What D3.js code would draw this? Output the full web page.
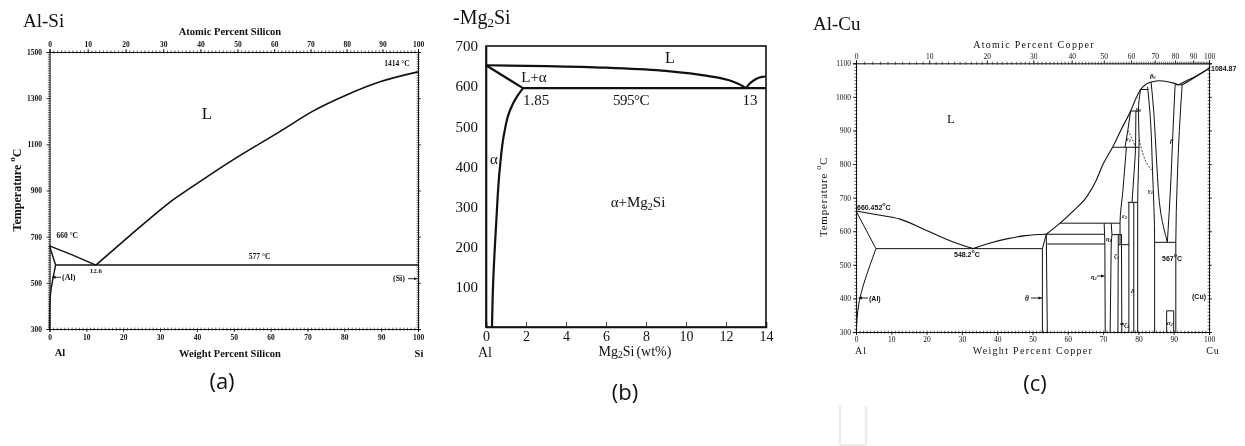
<!DOCTYPE html>
<html><head><meta charset="utf-8">
<script src="https://cdn.jsdelivr.net/npm/d3@7"></script>
<style>body{margin:0;background:#fff}svg{display:block;will-change:transform}</style>
</head><body>
<script>
// ================= data =================
// (a) Al-Si : [wt% Si, temperature °C]
const siLiquidusAl = [[0,660],[6,622],[12.6,577]];
const siLiquidusSi = [[12.6,577],[20,680],[27,775],[33.5,859],[40,930],[50,1035],[62.5,1155],[71.6,1245],[80.6,1314],[89.7,1371],[100,1414]];
const siSolidusAl = [[0,660],[1.65,577]];
const siSolvusAl = [[1.65,577],[1.2,540],[0.6,490],[0.2,440],[0.05,380],[0,300]];
const siEutectic = [[1.65,577],[100,577]];
const siTempTicks = [300,500,700,900,1100,1300,1500];
const siWtTicks = [0,10,20,30,40,50,60,70,80,90,100];
const siAtTicks = [0,10,20,30,40,50,60,70,80,90,100];

// (b) Al-Mg2Si : [wt% Mg2Si, temperature °C]
const mgLiquidusAl = [[0,652],[3,650],[6,646],[9,638],[11,626],[12.3,612],[12.8,601],[13,595]];
const mgLiquidusMg2Si = [[13,595],[13.2,607],[13.5,618],[13.8,623],[14,624]];
const mgSolidus = [[0,652],[1.85,595]];
const mgSolvus = [[1.85,595],[1.5,570],[1.2,540],[0.9,480],[0.7,400],[0.5,250],[0.35,100],[0.3,0]];
const mgEutectic = [[1.85,595],[14,595]];
const mgTempTicks = [100,200,300,400,500,600,700];
const mgWtTicks = [0,2,4,6,8,10,12,14];

// (c) Al-Cu : [wt% Cu, temperature °C]
const cuLiquidusAl = [[0,660.452],[6,649],[12.5,636],[20,602],[27,570],[33.2,548.2]];
const cuSolidusAl = [[0,660.452],[5.65,548.2]];
const cuSolvusAl = [[5.65,548.2],[4.0,500],[2.1,440],[0.9,390],[0.3,340],[0.1,300]];
const cuEutectic = [[5.65,548.2],[52.8,548.2]];
const cuLiquidusTheta = [[33.2,548.2],[38,565],[43,578],[48,587],[53.9,591]];
const cuLiquidusRich = [[53.9,591],[57.8,624],[61.5,660],[65.4,703],[68,750],[70,800],[72.8,852],[75,900],[77.8,958],[79.3,995],[80.6,1022],[82.2,1038],[84,1045],[86,1048],[88,1046],[90,1041],[91.4,1036]];
const cuLiquidusCu = [[91.4,1036],[93.5,1047],[96,1060],[98,1072],[100,1084.87]];
const cuSolidusCu = [[92.4,1036],[95,1052],[97.5,1068],[100,1084.87]];
const cuEutecticCu = [[90.4,1036],[92.4,1036]];
const cuSolvusCu = [[92.4,1036],[91.6,900],[91.0,750],[90.6,567],[90.6,300]];
const cuThetaLeft = [[52.8,300],[52.8,548.2],[53.9,591]];
const cuThetaRight = [[53.9,591],[54.2,300]];
const cuPeritectic591 = [[53.9,591],[70.5,591]];
const cuLine562 = [[54.2,562],[70.5,562]];
const cuPeritectic624 = [[57.8,624],[74.8,624]];
const cuEtaLeft = [[70.6,300],[70.5,562],[70.3,624]];
const cuEtaRight = [[72.3,624],[72.5,590],[72.3,562],[72.0,300]];
const cuZetaLeft = [[74.2,300],[74.3,590]];
const cuZetaRight = [[75.3,300],[75.2,590]];
const cuLine590 = [[72.5,590],[75.3,590]];
const cuLine560 = [[74.3,560],[77.3,560]];
const cuEps2Left = [[74.8,560],[74.8,624],[75.6,720],[76.6,850]];
const cuEps1Left = [[76.2,850],[77.0,900],[77.8,958]];
const cuEpsRight = [[78.2,686],[78.8,780],[79.2,850],[79.3,958]];
const cuLine850 = [[72.8,850],[80.2,850]];
const cuLine958 = [[77.8,958],[80.0,958]];
const cuDeltaLeft = [[77.3,300],[77.3,686]];
const cuDeltaRight = [[78.7,300],[78.7,686]];
const cuLine686 = [[77.0,686],[79.8,686]];
const cuGammaLeft = [[79.8,300],[79.8,686],[80.0,780],[80.2,873],[80.0,958],[80.6,1022]];
const cuLine1022 = [[80.6,1022],[82.8,1022]];
const cuGammaRight = [[84.6,300],[84.6,567],[84.0,780],[83.3,950],[82.6,1030]];
const cuBetaLeft = [[83.6,1044],[84.4,950],[85.2,800],[86.4,650],[88.2,567]];
const cuBetaRight = [[90.4,1036],[89.8,900],[89.2,750],[88.2,567]];
const cuEutectoid567 = [[84.6,567],[90.6,567]];
const cuAlpha2 = [[88.0,300],[88.0,363],[90.0,363],[90.0,300]];
const cuGammaTransition = [[80.2,873],[81.3,830],[82.5,800],[84.0,780]];
const cuEpsTransition = [[77.0,900],[78.0,880],[79.2,850]];
const cuTempTicks = [300,400,500,600,700,800,900,1000,1100];
const cuWtTicks = [0,10,20,30,40,50,60,70,80,90,100];
const cuAtTicks = [0,10,20,30,40,50,60,70,80,90,100];

// ================= drawing =================
const svg = d3.select("body").append("svg").attr("width",1245).attr("height",446);
svg.append("rect").attr("width",1245).attr("height",446).attr("fill","#fff");
const defs = svg.append("defs");
defs.append("marker").attr("id","ah").attr("viewBox","0 0 10 10")
  .attr("refX",10).attr("refY",5).attr("markerWidth",4).attr("markerHeight",4)
  .attr("orient","auto").append("path").attr("d","M0,1L10,5L0,9z").attr("fill","#111");

const SERIF = "'Liberation Serif','Times New Roman',serif";
const SANS = "'Liberation Sans',Arial,sans-serif";
const fmt = d3.format("d");

function atomicScale(x, massB){
  // atomic-percent axis placed over a weight-percent scale
  const dom = d3.range(0,100.001,0.5);
  return d3.scaleLinear().domain(dom)
    .range(dom.map(a => x(100*a*massB/(a*massB+(100-a)*26.982))));
}
function styleAxis(sel, font, size, weight){
  sel.select(".domain").attr("stroke","#111").attr("stroke-width",1);
  sel.selectAll(".tick line").attr("stroke","#111").attr("stroke-width",0.8);
  sel.selectAll("text").attr("font-family",font).attr("font-size",size)
    .attr("font-weight",weight||"normal").attr("fill","#111");
}
function minor(g, axisFn, scale, vals, size, tf){
  g.append("g").attr("transform",tf)
    .call(axisFn(scale).tickValues(vals).tickSize(size).tickFormat(""))
    .call(s=>{s.select(".domain").remove();s.selectAll("line").attr("stroke","#222").attr("stroke-width",0.7);});
}
function curves(g, x, y, list, width, curve){
  const line = d3.line().x(d=>x(d[0])).y(d=>y(d[1])).curve(curve||d3.curveLinear);
  list.forEach(pts => g.append("path").attr("d",line(pts)).attr("fill","none")
    .attr("stroke","#111").attr("stroke-width",width).attr("stroke-linejoin","round"));
}
function txt(g, s, x, y, o){
  o = o||{};
  const t = g.append("text").attr("x",x).attr("y",y)
    .attr("font-family",o.font||SERIF).attr("font-size",o.size||10)
    .attr("font-weight",o.weight||"normal").attr("font-style",o.style||"normal")
    .attr("text-anchor",o.anchor||"start").attr("dominant-baseline","central").attr("fill","#111");
  if (o.ls) t.attr("letter-spacing",o.ls);
  return t.text(s);
}
function degC(g, num, x, y, o){
  // "num °C" with the degree written as a small raised o
  const t = txt(g, num, x, y, o);
  const sz = (o&&o.size)||8;
  t.append("tspan").attr("font-size",sz*0.75).attr("dy",-sz*0.4).text("o");
  t.append("tspan").attr("dy",sz*0.4).text("C");
  return t;
}
function arrow(g, x1, y1, x2, y2){
  g.append("line").attr("x1",x1).attr("y1",y1).attr("x2",x2).attr("y2",y2)
    .attr("stroke","#111").attr("stroke-width",0.9).attr("marker-end","url(#ah)");
}

// ---------- (a) Al-Si ----------
{
  const g = svg.append("g");
  const x = d3.scaleLinear().domain([0,100]).range([49.5,418]);
  const y = d3.scaleLinear().domain([300,1500]).range([329,52]);
  const xt = atomicScale(x, 28.086);
  const [yb, yt] = y.range();

  minor(g, d3.axisBottom, x, d3.range(0,101,1), 1.6, `translate(0,${yb})`);
  minor(g, d3.axisBottom, x, d3.range(0,101,1), -1.4, `translate(0,${yb})`);
  minor(g, d3.axisTop, xt, d3.range(0,101,1), 1.6, `translate(0,${yt})`);
  minor(g, d3.axisTop, xt, d3.range(0,101,1), -1.4, `translate(0,${yt})`);
  minor(g, d3.axisLeft, y, d3.range(300,1501,10), 1.6, `translate(${x(0)},0)`);
  minor(g, d3.axisLeft, y, d3.range(300,1501,10), -1.4, `translate(${x(0)},0)`);
  minor(g, d3.axisRight, y, d3.range(300,1501,10), 1.6, `translate(${x(100)},0)`);
  minor(g, d3.axisRight, y, d3.range(300,1501,10), -1.4, `translate(${x(100)},0)`);

  g.append("g").attr("transform",`translate(0,${yb})`)
    .call(d3.axisBottom(x).tickValues(siWtTicks).tickFormat(fmt).tickSize(3).tickPadding(2.5))
    .call(s=>styleAxis(s,SERIF,7.5,"bold"));
  g.append("g").attr("transform",`translate(0,${yt})`)
    .call(d3.axisTop(xt).tickValues(siAtTicks).tickFormat(fmt).tickSize(3).tickPadding(1.8))
    .call(s=>styleAxis(s,SERIF,7.5,"bold"));
  g.append("g").attr("transform",`translate(${x(0)},0)`)
    .call(d3.axisLeft(y).tickValues(siTempTicks).tickFormat(fmt).tickSize(3).tickPadding(4.5))
    .call(s=>styleAxis(s,SERIF,7.5,"bold"));
  g.append("g").attr("transform",`translate(${x(100)},0)`)
    .call(d3.axisRight(y).tickValues(siTempTicks).tickSize(3).tickFormat(""))
    .call(s=>styleAxis(s,SERIF,7.5,"bold"));

  curves(g, x, y, [siLiquidusAl, siSolidusAl, siEutectic], 1.4);
  curves(g, x, y, [siLiquidusSi], 1.6, d3.curveMonotoneX);
  curves(g, x, y, [siSolvusAl], 1.4, d3.curveMonotoneY);

  txt(g, "Al-Si", 23, 20, {size:19});
  txt(g, "Atomic Percent Silicon", 230, 31, {size:10.5, weight:"bold", anchor:"middle"});
  txt(g, "Weight Percent Silicon", 230, 353, {size:10.5, weight:"bold", anchor:"middle"});
  txt(g, "Al", 60, 352, {size:10.5, weight:"bold", anchor:"middle"});
  txt(g, "Si", 419, 353, {size:10.5, weight:"bold", anchor:"middle"});
  txt(g, "L", 207, 113, {size:17, anchor:"middle"});
  txt(g, "660 °C", x(0)+7, y(704), {size:7.5, weight:"bold"});
  txt(g, "12.6", x(12.6), y(552), {size:7, weight:"bold", anchor:"middle"});
  txt(g, "577 °C", x(57), y(612), {size:7.5, weight:"bold", anchor:"middle"});
  txt(g, "1414 °C", 397, 63, {size:7.5, weight:"bold", anchor:"middle"});
  txt(g, "(Al)", 62, y(524), {size:8, weight:"bold"});
  arrow(g, 61, y(524), 52, y(524));
  txt(g, "(Si)", 405, y(518), {size:8, weight:"bold", anchor:"end"});
  arrow(g, 408, y(518), 417.5, y(518));

  const yl = txt(g, "Temperature", 0, 0, {size:12, weight:"bold", anchor:"middle"})
    .attr("transform","translate(17,190) rotate(-90)");
  yl.append("tspan").attr("font-size",9).attr("dy",-5).attr("dx",3).text("o");
  yl.append("tspan").attr("dy",5).text("C");

  txt(g, "(a)", 222, 380, {size:22, font:"'Open Sans',sans-serif", anchor:"middle"});
}

// ---------- (b) Al-Mg2Si ----------
{
  const g = svg.append("g");
  const x = d3.scaleLinear().domain([0,14]).range([486,766]);
  const y = d3.scaleLinear().domain([0,700]).range([327,46]);

  g.append("rect").attr("x",x(0)).attr("y",y(700)).attr("width",x(14)-x(0)).attr("height",y(0)-y(700))
    .attr("fill","none").attr("stroke","#111").attr("stroke-width",1.6);
  g.append("g").attr("transform",`translate(0,${y(0)})`)
    .call(d3.axisBottom(x).tickValues(mgWtTicks).tickFormat(fmt).tickSize(-5).tickPadding(4))
    .call(s=>{styleAxis(s,SERIF,14);s.select(".domain").attr("stroke-width",1.6);});
  g.append("g").attr("transform",`translate(${x(0)},0)`)
    .call(d3.axisLeft(y).tickValues(mgTempTicks).tickFormat(fmt).tickSize(0).tickPadding(8))
    .call(s=>{styleAxis(s,SERIF,15);s.select(".domain").attr("stroke-width",1.6);});

  curves(g, x, y, [mgLiquidusAl, mgLiquidusMg2Si], 2.2, d3.curveMonotoneX);
  curves(g, x, y, [mgSolidus, mgEutectic], 2.2);
  curves(g, x, y, [mgSolvus], 2.2, d3.curveMonotoneY);

  const t = txt(g, "-Mg", 453, 17, {size:20});
  t.append("tspan").attr("font-size",13).attr("dy",5).text("2");
  t.append("tspan").attr("dy",-5).text("Si");

  txt(g, "L", 670, 57, {size:16, anchor:"middle"});
  txt(g, "L+α", 534, 77, {size:15, anchor:"middle"});
  txt(g, "α", 494, 159, {size:15, anchor:"middle"});
  txt(g, "1.85", 536, 100, {size:15, anchor:"middle"});
  txt(g, "595°C", 631, 100, {size:15, anchor:"middle", ls:-0.5});
  txt(g, "13", 750, 100, {size:15, anchor:"middle"});
  const p = txt(g, "α+Mg", 638, 202, {size:15, anchor:"middle"});
  p.append("tspan").attr("font-size",10).attr("dy",4).text("2");
  p.append("tspan").attr("dy",-4).text("Si");
  txt(g, "Al", 485, 352, {size:14, anchor:"middle"});
  const xl = txt(g, "Mg", 635, 351, {size:14, anchor:"middle"});
  xl.append("tspan").attr("font-size",9.5).attr("dy",4).text("2");
  xl.append("tspan").attr("dy",-4).text("Si");
  xl.append("tspan").attr("dx",2).text("(wt%)");

  txt(g, "(b)", 625, 391, {size:22, font:"'Open Sans',sans-serif", anchor:"middle"});
}

// ---------- (c) Al-Cu ----------
{
  const g = svg.append("g");
  const x = d3.scaleLinear().domain([0,100]).range([856,1209]);
  const y = d3.scaleLinear().domain([300,1100]).range([332,63.3]);
  const xt = atomicScale(x, 63.546);
  const [yb, yt] = y.range();

  minor(g, d3.axisBottom, x, d3.range(0,101,1), 1.6, `translate(0,${yb})`);
  minor(g, d3.axisBottom, x, d3.range(0,101,1), -1.4, `translate(0,${yb})`);
  minor(g, d3.axisTop, xt, d3.range(0,101,1), 1.6, `translate(0,${yt})`);
  minor(g, d3.axisTop, xt, d3.range(0,101,1), -1.4, `translate(0,${yt})`);
  minor(g, d3.axisLeft, y, d3.range(300,1101,10), 1.6, `translate(${x(0)},0)`);
  minor(g, d3.axisLeft, y, d3.range(300,1101,10), -1.4, `translate(${x(0)},0)`);
  minor(g, d3.axisRight, y, d3.range(300,1101,10), 1.6, `translate(${x(100)},0)`);
  minor(g, d3.axisRight, y, d3.range(300,1101,10), -1.4, `translate(${x(100)},0)`);

  g.append("g").attr("transform",`translate(0,${yb})`)
    .call(d3.axisBottom(x).tickValues(cuWtTicks).tickFormat(fmt).tickSize(3).tickPadding(1.5))
    .call(s=>styleAxis(s,SERIF,7.5));
  g.append("g").attr("transform",`translate(0,${yt})`)
    .call(d3.axisTop(xt).tickValues(cuAtTicks).tickFormat(fmt).tickSize(3).tickPadding(1.2))
    .call(s=>styleAxis(s,SERIF,7.5));
  g.append("g").attr("transform",`translate(${x(0)},0)`)
    .call(d3.axisLeft(y).tickValues(cuTempTicks).tickFormat(fmt).tickSize(3).tickPadding(2))
    .call(s=>styleAxis(s,SERIF,7.5));
  g.append("g").attr("transform",`translate(${x(100)},0)`)
    .call(d3.axisRight(y).tickValues(cuTempTicks).tickSize(3).tickFormat(""))
    .call(s=>styleAxis(s,SERIF,7.5));

  curves(g, x, y, [cuLiquidusAl, cuLiquidusTheta, cuLiquidusRich, cuLiquidusCu, cuSolidusCu], 1.1, d3.curveMonotoneX);
  curves(g, x, y, [cuSolvusAl, cuSolvusCu, cuGammaRight, cuBetaLeft, cuBetaRight, cuEps2Left, cuEps1Left, cuEpsRight, cuGammaLeft], 1.0, d3.curveMonotoneY);
  curves(g, x, y, [cuSolidusAl, cuEutectic, cuEutecticCu, cuThetaLeft, cuThetaRight, cuPeritectic591,
    cuLine562, cuPeritectic624, cuEtaLeft, cuEtaRight, cuZetaLeft, cuZetaRight, cuLine590, cuLine560,
    cuLine850, cuLine958, cuDeltaLeft, cuDeltaRight, cuLine686, cuLine1022, cuEutectoid567, cuAlpha2], 1.0);
  const dash = d3.line().x(d=>x(d[0])).y(d=>y(d[1])).curve(d3.curveMonotoneX);
  [cuGammaTransition, cuEpsTransition].forEach(pts => g.append("path").attr("d",dash(pts))
    .attr("fill","none").attr("stroke","#111").attr("stroke-width",0.8).attr("stroke-dasharray","2,1.5"));

  txt(g, "Al-Cu", 813, 23, {size:19});
  txt(g, "Atomic Percent Copper", 1034, 44, {size:10, anchor:"middle", ls:1.3});
  txt(g, "Weight Percent Copper", 1033, 350, {size:10, anchor:"middle", ls:1.3});
  txt(g, "Al", 861, 350, {size:10, anchor:"middle", ls:1});
  txt(g, "Cu", 1213, 350, {size:10, anchor:"middle", ls:1});
  txt(g, "L", 951, 118, {size:13, anchor:"middle"});

  const SM = {size:7, font:SANS, weight:"bold"};
  degC(g, "660.452", 857, 207, SM);
  degC(g, "548.2", 954, 254, SM);
  degC(g, "567", 1162, 258, SM);
  txt(g, "1084.87", 1211, 68, SM);
  txt(g, "(Al)", 869, 298, SM);
  arrow(g, 868, 298, 858.5, 298);
  txt(g, "θ", 1029, 298, {size:7.5, style:"italic", weight:"bold", anchor:"end"});
  arrow(g, 1031, 298, 1042, 298);
  const GK = {size:6.5, style:"italic", weight:"bold"};
  txt(g, "η", 1091, 276, GK).append("tspan").attr("font-size",4.5).attr("dy",2).text("2");
  arrow(g, 1097, 276, 1104.5, 276);
  txt(g, "η", 1106, 238, GK).append("tspan").attr("font-size",4.5).attr("dy",2).text("1");
  txt(g, "ζ", 1114, 255, GK).append("tspan").attr("font-size",4.5).attr("dy",2).text("1");
  txt(g, "ε", 1122, 215, GK).append("tspan").attr("font-size",4.5).attr("dy",2).text("2");
  txt(g, "ε", 1126, 138, GK).append("tspan").attr("font-size",4.5).attr("dy",2).text("1");
  txt(g, "ζ", 1124, 324, GK).append("tspan").attr("font-size",4.5).attr("dy",2).text("2");
  arrow(g, 1123, 324, 1120, 324);
  txt(g, "δ", 1131, 290, GK);
  txt(g, "γ", 1136, 108, GK).append("tspan").attr("font-size",4.5).attr("dy",2).text("0");
  txt(g, "γ", 1148, 190, GK).append("tspan").attr("font-size",4.5).attr("dy",2).text("1");
  txt(g, "β", 1150, 75, GK).append("tspan").attr("font-size",4.5).attr("dy",2).text("0");
  txt(g, "β", 1170, 140, GK);
  txt(g, "(Cu)", 1192, 296, SM);
  txt(g, "α", 1167, 322, GK).append("tspan").attr("font-size",4.5).attr("dy",2).text("2");

  const yl = txt(g, "Temperature", 0, 0, {size:11, anchor:"middle", ls:0.8})
    .attr("transform","translate(823,197) rotate(-90)");
  yl.append("tspan").attr("font-size",8).attr("dy",-5).attr("dx",3).text("o");
  yl.append("tspan").attr("dy",5).text("C");

  txt(g, "(c)", 1035, 382, {size:22, font:"'Open Sans',sans-serif", anchor:"middle"});

  // faint bracket near the lower edge
  svg.append("path").attr("d","M840,406 L840,443 Q840,445 842,445 L864,445 Q866,445 866,443 L866,406")
    .attr("fill","none").attr("stroke","#ececec").attr("stroke-width",2.2);
}
</script>
</body></html>
